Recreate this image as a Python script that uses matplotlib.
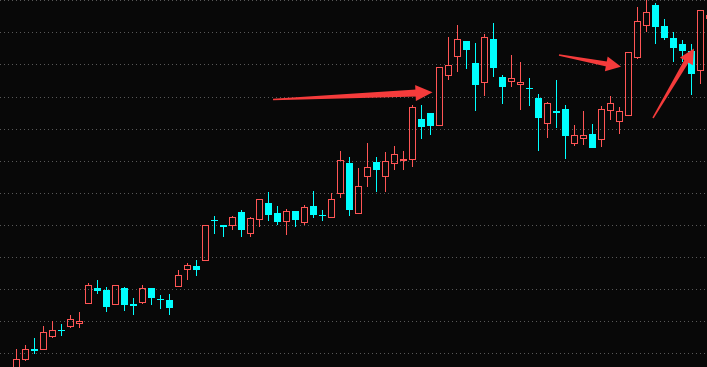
import matplotlib
matplotlib.use('Agg')
import matplotlib.pyplot as plt
from matplotlib.patches import Rectangle, Polygon
import numpy as np

# K线数据 (开, 高, 低, 收)
opens = [2.8, 4.13, 5.1, 5.13, 6.37, 7.0, 7.45, 7.73, 9.73, 11.2,
         11.0, 9.63, 11.2, 9.6, 9.83, 11.17, 10.12, 10.0, 11.43, 13.13,
         13.4, 14.03, 18.02, 17.5, 17.53, 18.8, 16.73, 18.13, 19.7, 18.7,
         17.93, 18.9, 17.83, 19.4, 18.55, 18.33, 20.73, 23.73, 18.73, 22.43,
         23.8, 22.43, 23.73, 24.05, 24.13, 28.1, 28.7, 27.5, 32.53, 34.43,
         35.9, 33.7, 31.77, 36.1, 32.3, 31.87, 31.57, 31.22, 30.2, 27.67,
         28.9, 29.1, 25.73, 26.17, 26.6, 26.07, 28.97, 27.87, 28.47, 34.27,
         37.47, 39.5, 37.4, 36.2, 35.6, 34.9, 33.03, 38.25]
highs = [5.1, 5.5, 6.2, 7.4, 7.9, 7.57, 8.5, 8.8, 11.67, 12.0,
         11.27, 11.5, 11.27, 10.2, 11.5, 11.2, 10.5, 10.6, 13.0, 13.73,
         14.0, 17.5, 18.4, 17.55, 18.4, 19.0, 18.33, 20.07, 20.8, 19.4,
         19.07, 18.9, 19.47, 20.9, 19.0, 20.73, 24.9, 24.3, 23.2, 25.73,
         24.3, 24.8, 25.4, 24.9, 29.5, 29.5, 28.7, 33.3, 36.3, 37.5,
         35.9, 35.7, 36.6, 37.7, 32.5, 34.5, 33.8, 32.2, 30.6, 29.8,
         32.0, 29.5, 27.5, 28.9, 27.6, 29.4, 30.4, 29.3, 34.8, 39.3,
         40.3, 39.7, 38.1, 36.8, 36.0, 35.6, 39.0, 38.6]
lows = [2.8, 4.03, 4.75, 5.1, 6.3, 6.53, 7.35, 7.33, 9.73, 10.73,
        8.93, 9.6, 9.0, 8.6, 9.73, 9.63, 9.23, 8.6, 11.4, 12.13,
        12.5, 14.0, 16.73, 16.4, 17.13, 16.4, 16.4, 17.4, 18.0, 17.6,
        16.6, 17.4, 17.6, 18.33, 18.0, 18.3, 20.33, 18.5, 18.7, 21.4,
        20.9, 20.93, 23.1, 23.1, 23.43, 26.23, 26.63, 27.5, 32.1, 32.93,
        33.23, 29.03, 30.53, 32.43, 29.73, 31.43, 29.13, 29.53, 25.03, 26.33,
        27.33, 24.23, 25.53, 25.6, 25.3, 25.43, 28.13, 26.73, 28.47, 34.17,
        36.93, 35.73, 36.1, 33.9, 33.93, 30.63, 31.73, 38.1]
closes = [4.1, 5.07, 5.05, 6.77, 6.97, 6.97, 8.07, 7.87, 11.47, 11.03,
          9.43, 11.47, 9.63, 9.54, 11.17, 10.3, 10.07, 9.3, 12.47, 13.47,
          13.13, 17.47, 17.97, 17.45, 18.27, 17.13, 18.2, 20.07, 18.63, 17.93,
          18.9, 18.1, 19.3, 18.63, 18.5, 20.1, 24.0, 19.13, 21.4, 23.3,
          23.1, 23.9, 24.6, 24.09, 29.3, 27.43, 27.5, 33.3, 33.5, 36.1,
          35.13, 31.63, 36.3, 33.33, 31.43, 32.17, 31.8, 31.17, 28.33, 29.67,
          28.85, 26.53, 26.47, 26.47, 25.33, 29.1, 29.67, 28.87, 34.77, 37.87,
          38.77, 37.43, 36.27, 35.33, 35.0, 32.73, 38.97, 38.5]

# 箭头 (图片像素坐标: 尾, 头)
arrows = [((273, 99.5), (432.5, 92.3)),
          ((559, 55), (621, 66.7)),
          ((653, 118), (694, 48.5))]

W, H = 707, 367
up_color = '#ff5555'
down_color = '#00ffff'
bg = '#080808'
px = 72 / 100  # 1像素对应的磅数

fig = plt.figure(figsize=(W / 100, H / 100), dpi=100, facecolor=bg)
ax = fig.add_axes([0, 0, 1, 1])
ax.set_facecolor(bg)
ax.set_xlim(-1.81, 76.74)
ax.set_ylim(3.3, 40.0)
ax.axis('off')

# 虚线网格
for lvl in np.linspace(39.97, 4.67, 12):
    ax.axhline(lvl, color='#585858', lw=px, linestyle=(0, (1, 3.3)), zorder=0,
               antialiased=False)

bw = 0.7
for i in range(len(opens)):
    o, h, l, c = opens[i], highs[i], lows[i], closes[i]
    top, bot = max(o, c), min(o, c)
    if c >= o:
        # 阳线: 空心红
        ax.vlines(i, top, h, color=up_color, lw=px, zorder=2, antialiased=False)
        ax.vlines(i, l, bot, color=up_color, lw=px, zorder=2, antialiased=False)
        ax.add_patch(Rectangle((i - bw / 2, bot), bw, top - bot, fill=False,
                               edgecolor=up_color, lw=px, zorder=3,
                               antialiased=False))
    else:
        # 阴线: 实心青
        ax.vlines(i, l, h, color=down_color, lw=px, zorder=2, antialiased=False)
        ax.add_patch(Rectangle((i - bw / 2, bot), bw, top - bot,
                               facecolor=down_color, edgecolor=down_color,
                               lw=px, zorder=3, antialiased=False))


def arrow_poly(tail, tip, w0=1.5, w1=6, head_len=16, head_w=8):
    tail = np.array(tail, float)
    tip = np.array(tip, float)
    u = (tip - tail) / np.linalg.norm(tip - tail)
    n = np.array([-u[1], u[0]])
    base = tip - head_len * u
    pts = [tail + n * w0 / 2, base + n * w1 / 2, base + n * head_w, tip,
           base - n * head_w, base - n * w1 / 2, tail - n * w0 / 2]
    return [(p[0] / W, 1 - p[1] / H) for p in pts]


for k, (t0, t1) in enumerate(arrows):
    if k == 0:
        pts = arrow_poly(t0, t1, w0=1.5, w1=7, head_len=17, head_w=8)
    else:
        pts = arrow_poly(t0, t1, w0=1.5, w1=5, head_len=15, head_w=7.5)
    ax.add_patch(Polygon(pts, closed=True, facecolor='#f53b3b', edgecolor='none',
                         transform=fig.transFigure, clip_on=False, zorder=10))

plt.savefig('out.png', dpi=100, facecolor=bg)
